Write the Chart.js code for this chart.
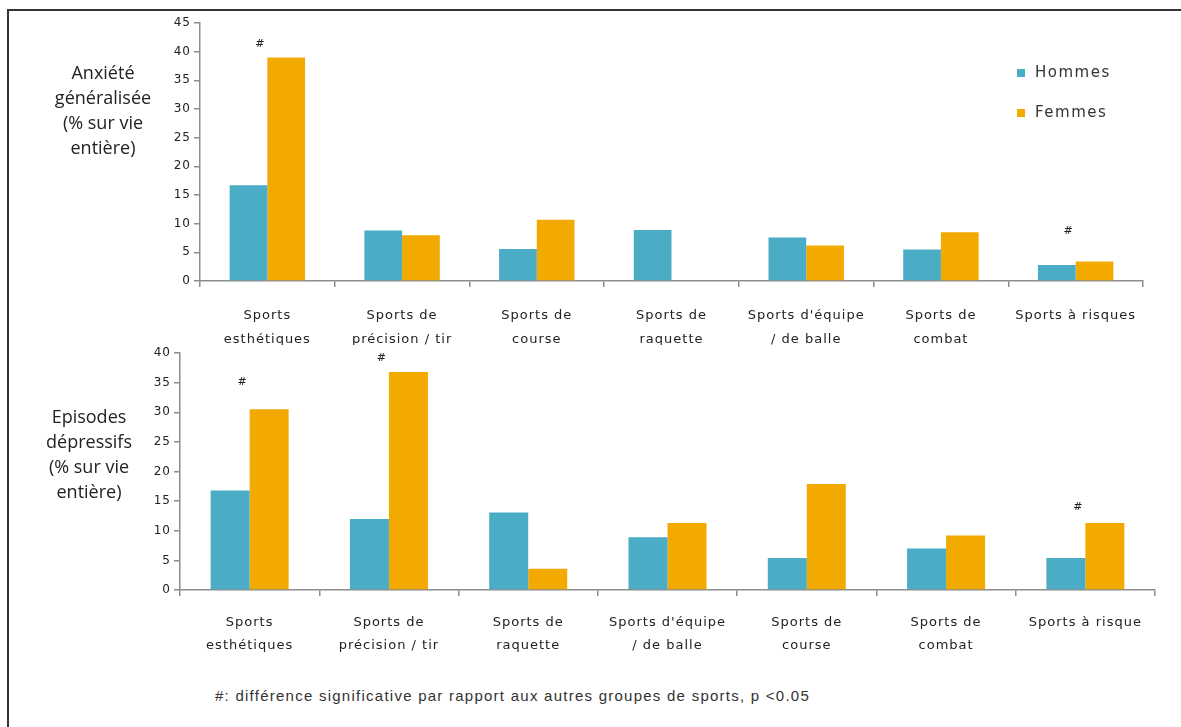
<!DOCTYPE html>
<html lang="fr">
<head>
<meta charset="UTF-8">
<title>Anxiété et épisodes dépressifs par groupe de sports</title>
<script src="https://cdn.jsdelivr.net/npm/chart.js@4"></script>
<style>
  body { margin: 0; background: #fff; width: 1181px; height: 727px; overflow: hidden; position: relative; }
  .frame { position: absolute; left: 7px; top: 9px; right: -10px; bottom: -10px; border-left: 2px solid #333; border-top: 2px solid #333; }
  .chart-box { position: absolute; left: 0; width: 1181px; }
  #topBox { top: 0; height: 345px; }
  #bottomBox { top: 330px; height: 340px; }
  .ytitle { position: absolute; width: 150px; text-align: center; font-family: "Open Sans", sans-serif; font-size: 18px; line-height: 25px; color: #222; }
  #topTitle { left: 28px; top: 60px; }
  #bottomTitle { left: 14px; top: 404px; }
  .note { position: absolute; left: 215px; top: 687px; font-family: "Liberation Sans", Arial, sans-serif; font-size: 15px; color: #333; letter-spacing: 1.25px; }
</style>
</head>
<body>
<div class="frame"></div>
<div class="chart-box" id="topBox"><canvas id="topChart"></canvas></div>
<div class="chart-box" id="bottomBox"><canvas id="bottomChart"></canvas></div>
<div class="ytitle" id="topTitle">Anxiété<br>généralisée<br>(% sur vie<br>entière)</div>
<div class="ytitle" id="bottomTitle">Episodes<br>dépressifs<br>(% sur vie<br>entière)</div>
<div class="note">#: différence significative par rapport aux autres groupes de sports, p &lt;0.05</div>
<script>
// valeurs
const seriesNames = ['Hommes', 'Femmes'];

const topLabels = [['Sports', 'esthétiques'], ['Sports de', 'précision / tir'], ['Sports de', 'course'],
  ['Sports de', 'raquette'], ["Sports d'équipe", '/ de balle'], ['Sports de', 'combat'], 'Sports à risques'];
const topHommes = [16.7, 8.8, 5.6, 8.9, 7.6, 5.5, 2.8];
const topFemmes = [39.0, 8.0, 10.7, null, 6.2, 8.5, 3.4];
const topSignif = [41.3, null, null, null, null, null, 8.7];
const topMax = 45;

const bottomLabels = [['Sports', 'esthétiques'], ['Sports de', 'précision / tir'], ['Sports de', 'raquette'],
  ["Sports d'équipe", '/ de balle'], ['Sports de', 'course'], ['Sports de', 'combat'], 'Sports à risque'];
const bottomHommes = [16.8, 12.0, 13.1, 8.9, 5.4, 7.0, 5.4];
const bottomFemmes = [30.5, 36.8, 3.6, 11.3, 17.9, 9.2, 11.3];
const bottomSignif = [35.1, 39.2, null, null, null, null, 14.0];
const bottomMax = 40;

const tickStep = 5;
const blue = '#4BACC6';
const orange = '#F2A900';
const axisGrey = '#8c8c8c';

// espacement des lettres comme dans l'original
const spacing = {
  id: 'spacing',
  beforeUpdate(chart) { chart.ctx.letterSpacing = '1px'; },
  beforeDraw(chart) { chart.ctx.letterSpacing = '1px'; }
};

// les "#" au-dessus des groupes significatifs
const signifMarks = {
  id: 'signifMarks',
  afterDatasetsDraw(chart, args, opts) {
    const { ctx, scales: { x, y } } = chart;
    ctx.save();
    ctx.font = '11px "DejaVu Sans"';
    ctx.fillStyle = '#222';
    ctx.textAlign = 'center';
    ctx.textBaseline = 'middle';
    (opts.values || []).forEach((v, i) => {
      if (v == null) return;
      ctx.fillText('#', x.getPixelForValue(i) + opts.dx, y.getPixelForValue(v));
    });
    ctx.restore();
  }
};

// légende verticale dans la zone du graphique
const sideLegend = {
  id: 'sideLegend',
  afterDraw(chart, args, opts) {
    if (!opts.show) return;
    const ctx = chart.ctx;
    ctx.save();
    ctx.letterSpacing = '1.5px';
    ctx.font = '15px "DejaVu Sans"';
    ctx.textBaseline = 'middle';
    chart.data.datasets.forEach((ds, i) => {
      const y = opts.y + i * opts.gap;
      ctx.fillStyle = ds.backgroundColor;
      ctx.fillRect(opts.x, y - 4, 8, 8);
      ctx.fillStyle = '#333';
      ctx.fillText(ds.label, opts.x + 18, y);
    });
    ctx.restore();
  }
};

function makeChart(id, labels, hommes, femmes, signif, yMax, cfg) {
  return new Chart(document.getElementById(id), {
    type: 'bar',
    data: {
      labels: labels,
      datasets: [
        { label: seriesNames[0], data: hommes, backgroundColor: blue, borderWidth: 0, categoryPercentage: 0.56, barPercentage: 1.0 },
        { label: seriesNames[1], data: femmes, backgroundColor: orange, borderWidth: 0, categoryPercentage: 0.56, barPercentage: 1.0 }
      ]
    },
    options: {
      responsive: true,
      maintainAspectRatio: false,
      animation: false,
      layout: { padding: { left: cfg.padLeft, right: cfg.padRight, top: cfg.padTop, bottom: 0 } },
      plugins: {
        legend: { display: false },
        tooltip: { enabled: false },
        signifMarks: { values: signif, dx: -7 },
        sideLegend: cfg.legend
      },
      scales: {
        x: {
          grid: { display: true, offset: true, drawOnChartArea: false, drawTicks: true, tickLength: 6, color: axisGrey, lineWidth: 1.5 },
          border: { display: true, color: axisGrey, width: 1.5 },
          ticks: { color: '#222', font: { family: 'DejaVu Sans', size: 13, lineHeight: cfg.lineHeight }, padding: cfg.xPad, maxRotation: 0, autoSkip: false },
          afterFit(scale) { scale.height = cfg.xHeight; }
        },
        y: {
          min: 0,
          max: yMax,
          grid: { drawOnChartArea: false, drawTicks: true, tickLength: 6, color: axisGrey, lineWidth: 1.5 },
          border: { display: true, color: axisGrey, width: 1.5 },
          ticks: { stepSize: tickStep, color: '#222', font: { family: 'DejaVu Sans', size: 12 }, padding: 3 },
          afterFit(scale) { scale.width = cfg.yWidth; }
        }
      }
    },
    plugins: [spacing, signifMarks, sideLegend]
  });
}

makeChart('topChart', topLabels, topHommes, topFemmes, topSignif, topMax, {
  padLeft: 150, yWidth: 50, padRight: 38, padTop: 23, xHeight: 64, lineHeight: 1.85, xPad: 17,
  legend: { show: true, x: 1017, y: 73, gap: 40 }
});

makeChart('bottomChart', bottomLabels, bottomHommes, bottomFemmes, bottomSignif, bottomMax, {
  padLeft: 130, yWidth: 50, padRight: 26, padTop: 23, xHeight: 80, lineHeight: 1.7, xPad: 16,
  legend: { show: false }
});
</script>
</body>
</html>
